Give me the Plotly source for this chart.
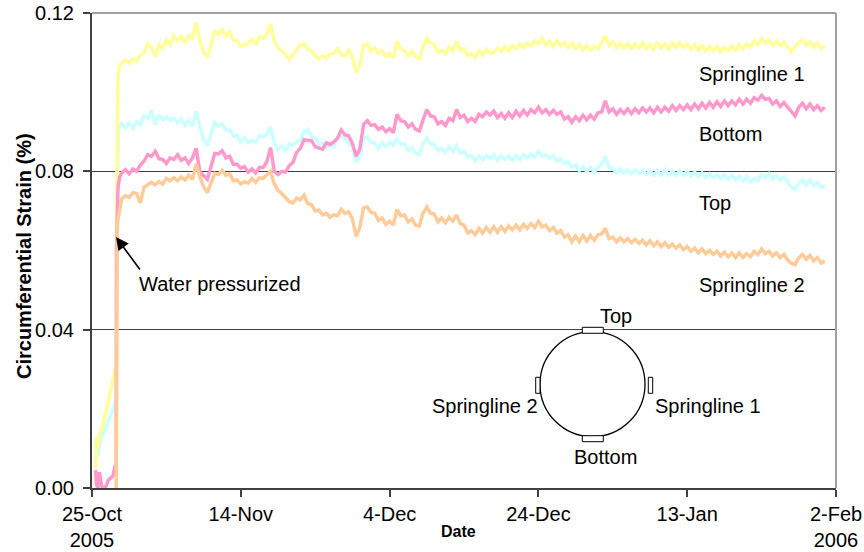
import pandas as pd
import numpy as np
import plotly.graph_objects as go

START = pd.Timestamp("2005-10-25")

# ---- data (days after 25-Oct-2005, circumferential strain in %) ----
main_days = list(np.arange(4.0, 98.51, 0.5))

sp1_pre_days = [0.5, 0.6, 0.8, 1.0, 1.3, 1.6, 1.9, 2.2, 2.5, 2.8, 3.1, 3.25, 3.3, 3.4, 3.5, 3.7]
sp1_pre = [0.0050, 0.0130, 0.0100, 0.0135, 0.0150, 0.0170, 0.0195, 0.0220, 0.0245, 0.0270,
           0.0295, 0.0310, 0.0700, 0.0980, 0.1040, 0.1068]
sp1_main = [
    0.1072, 0.1080, 0.1074, 0.1084, 0.1078, 0.1092, 0.1100, 0.1124, 0.1112, 0.1090,
    0.1120, 0.1110, 0.1132, 0.1120, 0.1142, 0.1130, 0.1140, 0.1126, 0.1144, 0.1134,
    0.1176, 0.1128, 0.1102, 0.1088, 0.1118, 0.1156, 0.1146, 0.1158, 0.1142, 0.1152,
    0.1132, 0.1130, 0.1116, 0.1118, 0.1126, 0.1134, 0.1120, 0.1140, 0.1136, 0.1148,
    0.1172, 0.1130, 0.1112, 0.1104, 0.1096, 0.1083, 0.1094, 0.1106, 0.1120, 0.1122,
    0.1108, 0.1104, 0.1092, 0.1084, 0.1092, 0.1086, 0.1096, 0.1098, 0.1110, 0.1094,
    0.1092, 0.1106, 0.1088, 0.1050, 0.1068, 0.1118, 0.1122, 0.1104, 0.1112, 0.1098,
    0.1104, 0.1090, 0.1098, 0.1086, 0.1128, 0.1110, 0.1104, 0.1092, 0.1104, 0.1090,
    0.1084, 0.1114, 0.1136, 0.1124, 0.1120, 0.1100, 0.1106, 0.1096, 0.1114, 0.1104,
    0.1128, 0.1106, 0.1110, 0.1092, 0.1098, 0.1088, 0.1104, 0.1094, 0.1108, 0.1098,
    0.1100, 0.1112, 0.1103, 0.1116, 0.1105, 0.1118, 0.1110, 0.1122, 0.1113, 0.1124,
    0.1116, 0.1130, 0.1122, 0.1136, 0.1120, 0.1129, 0.1115, 0.1130, 0.1118, 0.1126,
    0.1113, 0.1124, 0.1110, 0.1121, 0.1107, 0.1118, 0.1106, 0.1117, 0.1110, 0.1125,
    0.1142, 0.1118, 0.1126, 0.1112, 0.1124, 0.1111, 0.1123, 0.1110, 0.1122, 0.1112,
    0.1124, 0.1110, 0.1121, 0.1108, 0.1126, 0.1111, 0.1122, 0.1109, 0.1124, 0.1112,
    0.1125, 0.1113, 0.1122, 0.1108, 0.1120, 0.1106, 0.1118, 0.1104, 0.1116, 0.1105,
    0.1115, 0.1102, 0.1114, 0.1104, 0.1118, 0.1106, 0.1120, 0.1108, 0.1122, 0.1114,
    0.1130, 0.1120, 0.1136, 0.1124, 0.1131, 0.1118, 0.1129, 0.1117, 0.1127, 0.1114,
    0.1102, 0.1116, 0.1126, 0.1132, 0.1118, 0.1128, 0.1114, 0.1124, 0.1110, 0.1118]

top_pre_days = [0.5, 0.6, 0.8, 1.0, 1.3, 1.6, 1.9, 2.2, 2.5, 2.8, 3.1, 3.25, 3.3, 3.4, 3.5, 3.7]
top_pre = [0.0125, 0.0095, 0.0080, 0.0110, 0.0130, 0.0140, 0.0155, 0.0170, 0.0185, 0.0200,
           0.0210, 0.0220, 0.0600, 0.0850, 0.0895, 0.0918]
top_main = [
    0.0920, 0.0910, 0.0922, 0.0908, 0.0926, 0.0918, 0.0940, 0.0934, 0.0954, 0.0918,
    0.0942, 0.0930, 0.0938, 0.0928, 0.0934, 0.0922, 0.0932, 0.0916, 0.0928, 0.0914,
    0.0952, 0.0912, 0.0880, 0.0864, 0.0896, 0.0924, 0.0914, 0.0920, 0.0904, 0.0906,
    0.0888, 0.0890, 0.0874, 0.0886, 0.0872, 0.0878, 0.0874, 0.0890, 0.0886, 0.0894,
    0.0912, 0.0870, 0.0855, 0.0864, 0.0852, 0.0870, 0.0866, 0.0874, 0.0878, 0.0900,
    0.0906, 0.0888, 0.0884, 0.0868, 0.0872, 0.0860, 0.0866, 0.0862, 0.0882, 0.0888,
    0.0884, 0.0870, 0.0860, 0.0822, 0.0840, 0.0884, 0.0886, 0.0872, 0.0872, 0.0858,
    0.0872, 0.0862, 0.0874, 0.0866, 0.0882, 0.0868, 0.0870, 0.0852, 0.0860, 0.0846,
    0.0842, 0.0870, 0.0884, 0.0870, 0.0868, 0.0852, 0.0858, 0.0848, 0.0862, 0.0850,
    0.0864, 0.0846, 0.0850, 0.0836, 0.0840, 0.0826, 0.0838, 0.0830, 0.0840, 0.0832,
    0.0842, 0.0828, 0.0840, 0.0830, 0.0838, 0.0828, 0.0840, 0.0830, 0.0842, 0.0834,
    0.0844, 0.0836, 0.0850, 0.0838, 0.0842, 0.0832, 0.0840, 0.0826, 0.0832, 0.0820,
    0.0824, 0.0810, 0.0816, 0.0802, 0.0812, 0.0800, 0.0810, 0.0798, 0.0810, 0.0818,
    0.0838, 0.0808, 0.0808, 0.0796, 0.0806, 0.0796, 0.0804, 0.0794, 0.0804, 0.0795,
    0.0803, 0.0792, 0.0802, 0.0790, 0.0802, 0.0791, 0.0804, 0.0790, 0.0800, 0.0790,
    0.0802, 0.0790, 0.0800, 0.0788, 0.0798, 0.0786, 0.0796, 0.0784, 0.0794, 0.0784,
    0.0792, 0.0782, 0.0792, 0.0780, 0.0790, 0.0778, 0.0788, 0.0776, 0.0786, 0.0774,
    0.0782, 0.0776, 0.0792, 0.0784, 0.0794, 0.0780, 0.0790, 0.0778, 0.0786, 0.0772,
    0.0760, 0.0754, 0.0770, 0.0778, 0.0766, 0.0778, 0.0764, 0.0772, 0.0758, 0.0764]

bot_pre_days = [0.5, 0.6, 0.8, 1.0, 1.3, 1.6, 1.9, 2.2, 2.5, 2.8, 3.1, 3.25, 3.3, 3.4, 3.5, 3.7]
bot_pre = [0.0045, 0.0010, 0.0000, 0.0040, 0.0005, 0.0000, 0.0005, 0.0020, 0.0025, 0.0030,
           0.0055, 0.0060, 0.0600, 0.0700, 0.0760, 0.0785]
bot_main = [
    0.0796, 0.0804, 0.0794, 0.0806, 0.0800, 0.0816, 0.0826, 0.0842, 0.0838, 0.0850,
    0.0832, 0.0830, 0.0820, 0.0834, 0.0830, 0.0842, 0.0828, 0.0834, 0.0820, 0.0834,
    0.0858, 0.0798, 0.0790, 0.0780, 0.0812, 0.0845, 0.0844, 0.0852, 0.0834, 0.0838,
    0.0818, 0.0818, 0.0808, 0.0812, 0.0798, 0.0806, 0.0796, 0.0810, 0.0810, 0.0824,
    0.0860, 0.0800, 0.0792, 0.0800, 0.0798, 0.0814, 0.0822, 0.0848, 0.0858, 0.0880,
    0.0878, 0.0878, 0.0862, 0.0860, 0.0856, 0.0872, 0.0868, 0.0874, 0.0884, 0.0904,
    0.0892, 0.0890, 0.0870, 0.0838, 0.0856, 0.0918, 0.0928, 0.0916, 0.0918, 0.0906,
    0.0912, 0.0900, 0.0908, 0.0898, 0.0944, 0.0928, 0.0926, 0.0912, 0.0920, 0.0906,
    0.0902, 0.0930, 0.0956, 0.0940, 0.0938, 0.0920, 0.0926, 0.0916, 0.0934, 0.0928,
    0.0956, 0.0936, 0.0942, 0.0926, 0.0934, 0.0926, 0.0944, 0.0938, 0.0950, 0.0942,
    0.0952, 0.0936, 0.0946, 0.0934, 0.0948, 0.0936, 0.0952, 0.0940, 0.0954, 0.0942,
    0.0956, 0.0948, 0.0962, 0.0948, 0.0956, 0.0944, 0.0954, 0.0944, 0.0950, 0.0932,
    0.0938, 0.0924, 0.0938, 0.0928, 0.0942, 0.0930, 0.0942, 0.0932, 0.0948, 0.0950,
    0.0978, 0.0950, 0.0958, 0.0944, 0.0956, 0.0946, 0.0958, 0.0946, 0.0958, 0.0948,
    0.0960, 0.0950, 0.0960, 0.0948, 0.0962, 0.0950, 0.0962, 0.0952, 0.0966, 0.0954,
    0.0966, 0.0956, 0.0968, 0.0956, 0.0970, 0.0958, 0.0972, 0.0960, 0.0974, 0.0962,
    0.0976, 0.0964, 0.0978, 0.0966, 0.0978, 0.0968, 0.0982, 0.0970, 0.0982, 0.0972,
    0.0986, 0.0980, 0.0992, 0.0982, 0.0984, 0.0970, 0.0978, 0.0964, 0.0974, 0.0962,
    0.0950, 0.0940, 0.0962, 0.0972, 0.0958, 0.0970, 0.0956, 0.0966, 0.0954, 0.0962]

sp2_pre_days = [3.25, 3.3, 3.4, 3.5, 3.7]
sp2_pre = [0.0000, 0.0635, 0.0660, 0.0680, 0.0705]
sp2_main = [
    0.0730, 0.0738, 0.0734, 0.0746, 0.0744, 0.0720, 0.0760, 0.0766, 0.0772, 0.0766,
    0.0774, 0.0768, 0.0782, 0.0776, 0.0784, 0.0776, 0.0786, 0.0778, 0.0790, 0.0780,
    0.0818, 0.0786, 0.0762, 0.0746, 0.0772, 0.0795, 0.0792, 0.0802, 0.0790, 0.0794,
    0.0776, 0.0778, 0.0768, 0.0774, 0.0770, 0.0782, 0.0772, 0.0784, 0.0782, 0.0792,
    0.0800, 0.0768, 0.0752, 0.0744, 0.0735, 0.0724, 0.0720, 0.0732, 0.0728, 0.0740,
    0.0718, 0.0716, 0.0700, 0.0702, 0.0690, 0.0694, 0.0684, 0.0690, 0.0688, 0.0704,
    0.0694, 0.0698, 0.0680, 0.0636, 0.0658, 0.0708, 0.0710, 0.0696, 0.0694, 0.0676,
    0.0682, 0.0666, 0.0674, 0.0664, 0.0704, 0.0688, 0.0690, 0.0672, 0.0680, 0.0664,
    0.0662, 0.0694, 0.0710, 0.0694, 0.0692, 0.0672, 0.0682, 0.0670, 0.0684, 0.0674,
    0.0690, 0.0668, 0.0664, 0.0644, 0.0650, 0.0640, 0.0656, 0.0644, 0.0658, 0.0646,
    0.0660, 0.0646, 0.0660, 0.0648, 0.0662, 0.0652, 0.0664, 0.0652, 0.0666, 0.0656,
    0.0668, 0.0658, 0.0674, 0.0660, 0.0664, 0.0650, 0.0658, 0.0644, 0.0650, 0.0634,
    0.0640, 0.0622, 0.0636, 0.0622, 0.0638, 0.0624, 0.0638, 0.0626, 0.0640, 0.0642,
    0.0656, 0.0630, 0.0634, 0.0622, 0.0632, 0.0622, 0.0630, 0.0620, 0.0628, 0.0618,
    0.0626, 0.0614, 0.0624, 0.0612, 0.0622, 0.0610, 0.0620, 0.0608, 0.0616, 0.0606,
    0.0614, 0.0602, 0.0610, 0.0598, 0.0606, 0.0594, 0.0604, 0.0592, 0.0600, 0.0590,
    0.0598, 0.0586, 0.0596, 0.0584, 0.0594, 0.0582, 0.0594, 0.0582, 0.0592, 0.0584,
    0.0598, 0.0590, 0.0604, 0.0592, 0.0598, 0.0586, 0.0594, 0.0582, 0.0590, 0.0576,
    0.0568, 0.0564, 0.0582, 0.0590, 0.0578, 0.0588, 0.0574, 0.0582, 0.0568, 0.0574]

tick_days = [0, 20, 40, 60, 80, 100]
tick_labels = ["25-Oct<br>2005", "14-Nov", "4-Dec", "24-Dec", "13-Jan", "2-Feb<br>2006"]
y_ticks = [0.00, 0.04, 0.08, 0.12]

series = [
    ("Top", top_pre_days, top_pre, top_main, "#ccffff"),
    ("Springline 1", sp1_pre_days, sp1_pre, sp1_main, "#ffff99"),
    ("Bottom", bot_pre_days, bot_pre, bot_main, "#ff99cc"),
    ("Springline 2", sp2_pre_days, sp2_pre, sp2_main, "#ffcc99"),
]


def to_dates(days):
    return [START + pd.Timedelta(days=float(d)) for d in days]


# geometry in window pixels (page body margin is removed below)
W, H = 864, 552
L, R, T, B = 92, 836, 13, 488


def px(x):
    return (x - L) / (R - L)


def py(y):
    return (B - y) / (B - T)


FONT = "Liberation Sans, Arial, sans-serif"

fig = go.Figure()
for name, pd_days, pre, main, color in series:
    fig.add_trace(go.Scatter(
        x=to_dates(list(pd_days) + main_days),
        y=list(pre) + list(main),
        mode="lines", name=name,
        line=dict(color=color, width=3.5),
        hoverinfo="skip",
    ))

fig.update_layout(
    width=W, height=H,
    margin=dict(l=L, r=W - R, t=T, b=H - B, autoexpand=False),
    paper_bgcolor="white", plot_bgcolor="white",
    showlegend=False,
    font=dict(family=FONT, size=20, color="black"),
    xaxis=dict(
        type="date", automargin=False, ticklabeloverflow="allow",
        range=[START, START + pd.Timedelta(days=100)],
        tickvals=to_dates(tick_days), ticktext=tick_labels,
        showgrid=False, zeroline=False,
        showline=True, linecolor="#404040", linewidth=2,
        ticks="outside", ticklen=7, tickwidth=1.5, tickcolor="#404040",
        tickfont=dict(family=FONT, size=20, color="black"),
        ticklabelstandoff=0,
    ),
    yaxis=dict(
        range=[0, 0.12], automargin=False, ticklabeloverflow="allow",
        tickvals=y_ticks, tickformat=".2f",
        showgrid=True, gridcolor="#404040", gridwidth=1,
        zeroline=False,
        showline=True, linecolor="#404040", linewidth=2,
        ticks="outside", ticklen=7, tickwidth=1.5, tickcolor="#404040",
        tickfont=dict(family=FONT, size=20, color="black"),
        ticklabelstandoff=5,
    ),
)

shapes = [
    dict(type="line", xref="paper", yref="paper", x0=0, x1=1, y0=1, y1=1,
         line=dict(color="#a0a0a0", width=2)),
    dict(type="line", xref="paper", yref="paper", x0=1, x1=1, y0=0, y1=1,
         line=dict(color="#a0a0a0", width=2)),
    # pipe cross-section diagram
    dict(type="circle", xref="paper", yref="paper",
         x0=px(540), x1=px(645), y0=py(436.7), y1=py(331.7),
         line=dict(color="black", width=1.3), fillcolor="rgba(0,0,0,0)"),
]
gauges = [(582.3, 603.3, 327.3, 333.3), (582.3, 603.3, 435.7, 441.7),
          (535.7, 540.0, 377.3, 393.3), (648.3, 652.7, 377.3, 393.3)]
for gx0, gx1, gy0, gy1 in gauges:
    shapes.append(dict(type="rect", xref="paper", yref="paper",
                       x0=px(gx0), x1=px(gx1), y0=py(gy1), y1=py(gy0),
                       line=dict(color="black", width=1), fillcolor="white"))
fig.update_layout(shapes=shapes)

labels = [
    ("Springline 1", 697, 74, "left"),
    ("Bottom", 697, 134, "left"),
    ("Top", 697, 203, "left"),
    ("Springline 2", 697, 285, "left"),
    ("Water pressurized", 137, 284, "left"),
    ("Top", 616, 316, "center"),
    ("Springline 2", 540, 406, "right"),
    ("Springline 1", 652.5, 406, "left"),
    ("Bottom", 605.5, 457, "center"),
]
for text, lx, ly, anchor in labels:
    fig.add_annotation(text=text, xref="paper", yref="paper", x=px(lx), y=py(ly),
                       xanchor=anchor, yanchor="middle", showarrow=False,
                       font=dict(family=FONT, size=20, color="black"))

# arrow to the pressurization point
fig.add_annotation(text="", xref="paper", yref="paper", x=px(116), y=py(237),
                   ax=25, ay=34, showarrow=True, arrowhead=2, arrowsize=1.6,
                   arrowwidth=1.6, arrowcolor="black", standoff=0)

# axis titles
fig.add_annotation(text="<b>Circumferential Strain (%)</b>", xref="paper", yref="paper",
                   x=px(24), y=py(256), textangle=-90, showarrow=False,
                   xanchor="center", yanchor="middle",
                   font=dict(family=FONT, size=20, color="black"))
fig.add_annotation(text="<b>Date</b>", xref="paper", yref="paper",
                   x=px(458), y=py(531), showarrow=False,
                   xanchor="center", yanchor="middle",
                   font=dict(family=FONT, size=16, color="black"))

fig.write_html("out.html",
               config={"displayModeBar": False},
               post_script="document.body.style.margin='0px';"
                           "document.body.style.overflow='hidden';")
